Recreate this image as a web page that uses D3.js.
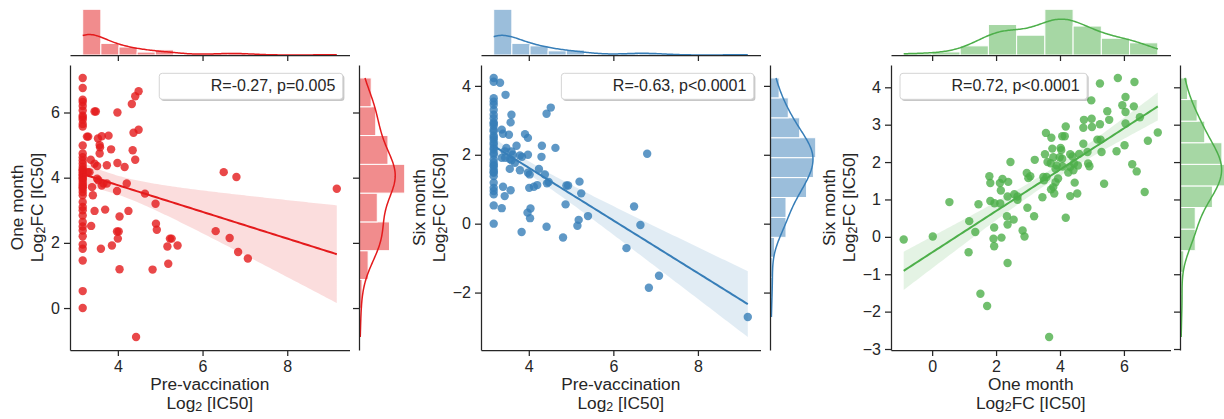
<!DOCTYPE html>
<html>
<head>
<meta charset="utf-8">
<script src="https://cdn.jsdelivr.net/npm/d3@7/dist/d3.min.js"></script>
<style>
  html, body { margin: 0; padding: 0; background: #fff; }
  svg { display: block; }
  text { font-family: "Liberation Sans", Arial, Helvetica, sans-serif; fill: #262626; white-space: pre; }
</style>
</head>
<body>
<svg id="chart" width="1224" height="419"></svg>
<script>
// ---- per-subject log2 titres: [x, y] pairs for each comparison ----
const preVsOneMonth = [
  [3.17, 7.06], [3.17, 6.75], [3.17, 6.39], [3.17, 6.32], [3.17, 6.2], [3.17, 6.06], [3.17, 5.9],
  [3.17, 5.85], [3.17, 5.78], [3.17, 5.65], [3.17, 5.57], [3.17, 4.99], [3.17, 4.74], [3.17, 4.63],
  [3.17, 4.53], [3.17, 4.43], [3.17, 4.33], [3.17, 4.25], [3.17, 4.22], [3.17, 4.17], [3.17, 4.1],
  [3.17, 4.07], [3.17, 4.0], [3.17, 3.97], [3.17, 3.9], [3.17, 3.82], [3.17, 3.75], [3.17, 3.71],
  [3.17, 3.65], [3.17, 3.56], [3.17, 3.46], [3.17, 3.25], [3.17, 3.1], [3.17, 3.0], [3.17, 2.84],
  [3.17, 2.64], [3.17, 2.5], [3.17, 2.38], [3.17, 2.2], [3.17, 1.95], [3.17, 1.82], [3.17, 1.46],
  [3.17, 0.52], [3.17, 0.0],
  [3.27, 5.26], [3.30, 5.26], [3.45, 6.03], [3.48, 6.03], [3.99, 6.0], [4.33, 6.26], [4.41, 6.5],
  [4.49, 6.65], [4.37, 5.38], [4.49, 5.47], [3.53, 5.2], [3.62, 5.27], [3.78, 5.29], [3.57, 5.0],
  [3.58, 4.93], [3.57, 4.74], [3.36, 4.55], [3.45, 4.43], [3.51, 4.36], [3.29, 4.17], [3.33, 4.17],
  [3.51, 3.97], [3.54, 3.92], [3.66, 3.82], [3.62, 3.76], [3.74, 3.82], [3.39, 3.71], [3.41, 3.46],
  [3.84, 4.87], [3.99, 4.45], [3.74, 4.38], [4.16, 4.33], [4.35, 4.84], [4.41, 4.55], [4.21, 3.82],
  [3.98, 3.59], [4.64, 3.51], [4.89, 3.2], [3.45, 2.98], [3.70, 3.02], [4.25, 2.98], [3.37, 2.52],
  [4.04, 2.81], [4.90, 2.59], [4.92, 2.4], [3.98, 2.35], [4.02, 2.35], [4.00, 2.13], [3.86, 1.92],
  [3.60, 1.82], [5.23, 2.13], [5.27, 2.13], [5.17, 1.89], [5.41, 1.92], [5.19, 1.36], [4.04, 1.19],
  [4.82, 1.18], [6.50, 4.17], [6.80, 4.02], [9.17, 3.66], [6.31, 2.36], [6.64, 2.15], [6.84, 1.72],
  [7.07, 1.52], [4.43, -0.89]
];

const preVsSixMonth = [
  [3.17, 4.23], [3.17, 4.12], [3.17, 3.64], [3.17, 3.54], [3.17, 3.45], [3.17, 3.3], [3.17, 3.16],
  [3.17, 3.06], [3.17, 2.94], [3.17, 2.9], [3.17, 2.84], [3.17, 2.73], [3.17, 2.68], [3.17, 2.55],
  [3.17, 2.5], [3.17, 2.44], [3.17, 2.35], [3.17, 2.29], [3.17, 2.2], [3.17, 2.15], [3.17, 2.05],
  [3.17, 2.0], [3.17, 1.86], [3.17, 1.77], [3.17, 1.7], [3.17, 1.67], [3.17, 1.57], [3.17, 1.5],
  [3.17, 1.48], [3.17, 1.38], [3.17, 1.19], [3.17, 1.04], [3.17, 0.95], [3.17, 0.85], [3.17, 0.53],
  [3.17, 0.0],
  [3.32, 4.09], [3.45, 3.74], [3.59, 3.16], [3.57, 2.94], [3.36, 2.73], [3.53, 2.58], [3.39, 2.61],
  [3.91, 2.6], [3.98, 2.49], [4.52, 3.37], [4.42, 3.19], [3.47, 2.2], [3.43, 2.1], [3.71, 2.26],
  [3.59, 2.1], [3.62, 2.0], [3.36, 1.91], [3.44, 1.91], [3.55, 1.88], [3.59, 1.84], [3.79, 1.98],
  [3.84, 1.94], [3.98, 2.0], [3.55, 1.59], [3.79, 1.55], [3.67, 1.77], [3.98, 1.48], [4.02, 1.43],
  [4.24, 1.59], [4.38, 1.43], [4.31, 2.26], [4.30, 1.94], [4.63, 2.2], [4.43, 1.17], [4.47, 1.21],
  [4.01, 1.04], [4.12, 1.07], [4.20, 1.12], [4.89, 1.11], [4.93, 1.11], [5.20, 1.22], [5.24, 0.88],
  [3.39, 1.07], [3.57, 0.97], [3.43, 0.8], [3.36, 0.45], [4.04, 0.44], [3.97, 0.32], [4.03, 0.16],
  [4.87, 0.56], [5.18, 0.11], [5.15, -0.06], [5.40, 0.22], [4.42, -0.09], [3.83, -0.24], [4.81, -0.4],
  [6.49, 0.5], [6.64, -0.04], [6.31, -0.71], [6.80, 2.03], [7.08, -1.51], [6.84, -1.86], [9.18, -2.71]
];

const oneVsSixMonth = [
  [5.25, 4.10], [5.81, 4.25], [6.33, 4.14], [4.98, 3.65], [6.05, 3.74], [5.95, 3.52], [6.31, 3.49],
  [5.48, 3.36], [6.05, 3.34], [4.75, 3.13], [4.99, 3.16], [5.54, 3.13], [6.50, 3.20], [4.73, 2.92],
  [5.00, 2.94], [5.25, 3.01], [6.05, 3.03], [4.18, 2.95], [3.56, 2.78], [4.07, 2.69], [4.15, 2.69],
  [3.73, 2.65], [7.06, 2.79], [6.75, 2.57], [3.76, 2.36], [4.02, 2.38], [4.73, 2.49], [5.17, 2.60],
  [5.27, 2.60], [4.86, 2.27], [5.30, 2.27], [3.53, 2.21], [3.21, 2.06], [3.79, 2.13], [3.99, 2.13],
  [4.07, 2.09], [4.32, 2.21], [4.39, 2.15], [4.60, 2.22], [3.61, 2.00], [3.71, 1.97], [3.90, 1.91],
  [4.44, 1.96], [4.56, 1.91], [4.88, 1.96], [4.92, 1.89], [4.32, 1.87], [4.42, 1.78], [5.77, 2.29],
  [6.02, 2.45], [6.26, 1.94], [6.40, 1.75], [6.65, 1.20], [5.38, 1.42], [4.46, 1.45], [4.54, 1.16],
  [4.32, 1.09], [3.82, 1.16], [3.79, 1.33], [3.50, 1.51], [3.48, 1.60], [3.01, 1.57], [3.07, 1.62],
  [2.96, 1.71], [3.45, 1.06], [1.79, 1.62], [1.82, 1.44], [2.12, 1.44], [2.38, 1.47], [2.15, 1.24],
  [2.36, 1.08], [2.57, 1.14], [2.67, 1.08], [2.67, 0.99], [0.54, 0.93], [1.45, 0.87], [1.82, 0.96],
  [2.13, 0.89], [2.98, 0.78], [2.34, 0.55], [2.55, 0.46], [3.19, 0.55], [4.18, 0.51], [1.16, 0.42],
  [2.36, 0.33], [1.94, 0.25], [1.35, 0.13], [2.83, 0.17], [2.89, 0.01], [0.02, 0.01], [-0.89, -0.07],
  [1.92, -0.05], [2.17, -0.02], [1.94, -0.25], [1.14, -0.41], [2.36, -0.70], [1.51, -1.52],
  [1.72, -1.85], [3.66, -2.68],
  [3.58, 1.60], [3.86, 1.82], [4.08, 1.88], [3.94, 1.56], [4.26, 1.72], [3.72, 1.27], [4.04, 2.32],
  [3.86, 1.46], [2.20, 1.55], [2.45, 2.00], [1.95, 0.90]
];

// ---- tick values, labels, annotations ----
const preTicks = [4, 6, 8];
const oneMonthTicks = [0, 2, 4, 6];
const sixMonthTicksWide = [-2, 0, 2, 4];
const sixMonthTicks = [-3, -2, -1, 0, 1, 2, 3, 4];

const preLabel = ["Pre-vaccination", "Log_{2} [IC50]"];
const oneMonthLabel = ["One month", "Log_{2}FC [IC50]"];
const sixMonthLabel = ["Six month", "Log_{2}FC [IC50]"];
const statLabels = ["R=-0.27, p=0.005", "R=-0.63, p<0.0001", "R=0.72, p<0.0001"];
const palette = ["#e41a1c", "#377eb8", "#4daf4a"];

// ---- layout ----
const layout = { lefts: [70, 481, 891], mainW: 279.5, top: 65, bottom: 350,
                 margGap: 10, sideGap: 9.5, margSize: 48 };
const TICK_FS = 16, LABEL_FS = 17.3, STAT_FS = 16, LINE_GAP = 19.5;
const INK = "#262626";

const panels = [
  { points: preVsOneMonth, color: palette[0], xTicks: preTicks, yTicks: oneMonthTicks,
    xBins: 14, yBins: 9, xLabel: preLabel, yLabel: oneMonthLabel, stat: statLabels[0],
    legendSide: "right", left: layout.lefts[0] },
  { points: preVsSixMonth, color: palette[1], xTicks: preTicks, yTicks: sixMonthTicksWide,
    xBins: 14, yBins: 12, xLabel: preLabel, yLabel: sixMonthLabel, stat: statLabels[1],
    legendSide: "right", left: layout.lefts[1] },
  { points: oneVsSixMonth, color: palette[2], xTicks: oneMonthTicks, yTicks: sixMonthTicks,
    xBins: 9, yBins: 12, xLabel: oneMonthLabel, yLabel: sixMonthLabel, stat: statLabels[2],
    legendSide: "left", left: layout.lefts[2] }
];

const svg = d3.select("#chart");

// ---- helpers ----
function fitLine(xs, ys) {
  const n = xs.length, mx = d3.mean(xs), my = d3.mean(ys);
  let sxx = 0, sxy = 0;
  for (let i = 0; i < n; i++) { sxx += (xs[i] - mx) ** 2; sxy += (xs[i] - mx) * (ys[i] - my); }
  const b = sxy / sxx, a = my - b * mx;
  let sse = 0;
  for (let i = 0; i < n; i++) sse += (ys[i] - a - b * xs[i]) ** 2;
  return { a, b, n, mx, sxx, s: Math.sqrt(sse / (n - 2)) };
}

// Gaussian KDE (Scott bandwidth) scaled to histogram counts
function kdeCurve(values, lo, hi, scale) {
  const n = values.length, bw = d3.deviation(values) * Math.pow(n, -0.2);
  const norm = 1 / (n * bw * Math.sqrt(2 * Math.PI));
  return d3.range(200).map(i => {
    const g = lo + (hi - lo) * i / 199;
    return [g, d3.sum(values, v => Math.exp(-0.5 * ((g - v) / bw) ** 2)) * norm * scale];
  });
}

function binsOf(values, k) {
  const [lo, hi] = d3.extent(values);
  const step = (hi - lo) / k;
  return d3.bin().domain([lo, hi]).thresholds(d3.range(1, k).map(i => lo + i * step))(values);
}

function styleAxis(g) {
  g.select("path.domain").attr("stroke", INK).attr("stroke-width", 1.25);
  g.selectAll(".tick line").attr("stroke", INK).attr("stroke-width", 1.25);
  g.selectAll(".tick text").attr("font-size", TICK_FS).attr("fill", INK);
}

// one label line with _{..} subscripts; returns how far the pen is still lowered
function addRichLine(textSel, str, size, lineX, lineDy) {
  const parts = str.split(/_\{([^}]*)\}/);
  const shift = size * 0.13;
  let lowered = false, first = true;
  parts.forEach((s, i) => {
    if (!s) return;
    const ts = textSel.append("tspan").text(s);
    let dy = 0;
    if (first) { ts.attr("x", lineX); dy += lineDy; first = false; }
    if (i % 2 === 1) { ts.attr("font-size", size * 0.72); dy += shift; lowered = true; }
    else if (lowered) { dy -= shift; lowered = false; }
    if (dy !== 0) ts.attr("dy", dy);
  });
  return lowered ? shift : 0;
}

// two-line label as a single text element
function twoLineLabel(textSel, lines, size, lineX) {
  let carry = 0;
  lines.forEach((line, i) => {
    carry = addRichLine(textSel, line, size, lineX, i === 0 ? 0 : LINE_GAP - carry);
  });
}

const pad5 = ([a, b]) => [a - 0.05 * (b - a), b + 0.05 * (b - a)];

function drawPanel(cfg) {
  const L = cfg.left, R = L + layout.mainW, T = layout.top, B = layout.bottom;
  const xs = cfg.points.map(d => d[0]), ys = cfg.points.map(d => d[1]);
  const fit = fitLine(xs, ys);
  const [xmin, xmax] = d3.extent(xs);
  const tcrit = 1.984;
  const band = d3.range(100).map(i => {
    const xv = xmin + (xmax - xmin) * i / 99;
    const yh = fit.a + fit.b * xv;
    const se = fit.s * Math.sqrt(1 / fit.n + (xv - fit.mx) ** 2 / fit.sxx);
    return { x: xv, y: yh, lo: yh - tcrit * se, hi: yh + tcrit * se };
  });

  const x = d3.scaleLinear().domain(pad5([xmin, xmax])).range([L, R]);
  const yLo = Math.min(d3.min(ys), d3.min(band, d => d.lo));
  const yHi = Math.max(d3.max(ys), d3.max(band, d => d.hi));
  const y = d3.scaleLinear().domain(pad5([yLo, yHi])).range([B, T]);

  const g = svg.append("g");

  // scatter
  g.append("g").selectAll("circle").data(cfg.points).join("circle")
    .attr("cx", d => x(d[0])).attr("cy", d => y(d[1])).attr("r", 4.2)
    .attr("fill", cfg.color).attr("fill-opacity", 0.8);

  // confidence band and fitted line
  g.append("path").datum(band)
    .attr("d", d3.area().x(d => x(d.x)).y0(d => y(d.lo)).y1(d => y(d.hi)))
    .attr("fill", cfg.color).attr("fill-opacity", 0.15);
  g.append("path").datum(band)
    .attr("d", d3.line().x(d => x(d.x)).y(d => y(d.y)))
    .attr("fill", "none").attr("stroke", cfg.color).attr("stroke-width", 2);

  // main axes
  const xAxisG = g.append("g").attr("transform", `translate(0,${B})`)
    .call(d3.axisBottom(x).tickValues(cfg.xTicks).tickSize(6).tickSizeOuter(0)
      .tickPadding(4.3).tickFormat(d3.format("d")));
  styleAxis(xAxisG);
  const yAxisG = g.append("g").attr("transform", `translate(${L},0)`)
    .call(d3.axisLeft(y).tickValues(cfg.yTicks).tickSize(6).tickSizeOuter(0)
      .tickPadding(4).tickFormat(d3.format("d")));
  styleAxis(yAxisG);

  // top marginal histogram
  const topBase = T - layout.margGap;
  const xb = binsOf(xs, cfg.xBins);
  const xbw = (xmax - xmin) / cfg.xBins;
  const xk = kdeCurve(xs, xmin, xmax, xs.length * xbw);
  const hy = d3.scaleLinear()
    .domain([0, 1.05 * Math.max(d3.max(xb, b => b.length), d3.max(xk, d => d[1]))])
    .range([topBase, topBase - layout.margSize]);
  g.append("g").selectAll("rect").data(xb).join("rect")
    .attr("x", b => x(b.x0)).attr("width", b => x(b.x1) - x(b.x0))
    .attr("y", b => hy(b.length)).attr("height", b => hy(0) - hy(b.length))
    .attr("fill", cfg.color).attr("fill-opacity", 0.5)
    .attr("stroke", "#fff").attr("stroke-width", 1);
  g.append("path").datum(xk)
    .attr("d", d3.line().x(d => x(d[0])).y(d => hy(d[1])))
    .attr("fill", "none").attr("stroke", cfg.color).attr("stroke-width", 1.5);
  styleAxis(g.append("g").attr("transform", `translate(0,${topBase})`)
    .call(d3.axisBottom(x).tickValues(cfg.xTicks).tickSize(6).tickSizeOuter(0).tickFormat("")));

  // right marginal histogram
  const sideLeft = R + layout.sideGap;
  const [ymin, ymax] = d3.extent(ys);
  const yb = binsOf(ys, cfg.yBins);
  const ybw = (ymax - ymin) / cfg.yBins;
  const yk = kdeCurve(ys, ymin, ymax, ys.length * ybw);
  const hx = d3.scaleLinear()
    .domain([0, 1.05 * Math.max(d3.max(yb, b => b.length), d3.max(yk, d => d[1]))])
    .range([sideLeft, sideLeft + layout.margSize]);
  g.append("g").selectAll("rect").data(yb).join("rect")
    .attr("y", b => y(b.x1)).attr("height", b => y(b.x0) - y(b.x1))
    .attr("x", sideLeft).attr("width", b => hx(b.length) - hx(0))
    .attr("fill", cfg.color).attr("fill-opacity", 0.5)
    .attr("stroke", "#fff").attr("stroke-width", 1);
  g.append("path").datum(yk)
    .attr("d", d3.line().x(d => hx(d[1])).y(d => y(d[0])))
    .attr("fill", "none").attr("stroke", cfg.color).attr("stroke-width", 1.5);
  styleAxis(g.append("g").attr("transform", `translate(${sideLeft},0)`)
    .call(d3.axisLeft(y).tickValues(cfg.yTicks).tickSize(6).tickSizeOuter(0).tickFormat("")));

  // x label (two lines in one text element)
  const xt = g.append("text").attr("x", (L + R) / 2).attr("y", 389.6)
    .attr("text-anchor", "middle").attr("font-size", LABEL_FS);
  twoLineLabel(xt, cfg.xLabel, LABEL_FS, (L + R) / 2);

  // y label, placed left of the widest tick label
  const tickW = d3.max(yAxisG.selectAll(".tick text").nodes(), n => n.getComputedTextLength());
  const line2 = L - 10 - tickW - 8.2;
  const cy = (T + B) / 2;
  const yt = g.append("text")
    .attr("transform", `translate(${line2 - LINE_GAP},${cy}) rotate(-90)`)
    .attr("text-anchor", "middle").attr("font-size", LABEL_FS);
  twoLineLabel(yt, cfg.yLabel, LABEL_FS, 0);

  // statistics box
  const boxTop = T + 8.3, boxH = 26;
  const lg = g.append("g");
  const txt = lg.append("text").attr("font-size", STAT_FS).attr("text-anchor", "end").text(cfg.stat);
  const tw = txt.node().getComputedTextLength();
  const boxW = tw + 51.5 + 7.5;
  const boxLeft = cfg.legendSide === "right" ? R - 6.7 - boxW : L + 9;
  lg.insert("rect", "text").attr("x", boxLeft + 1.6).attr("y", boxTop + 1.6)
    .attr("width", boxW).attr("height", boxH).attr("rx", 3)
    .attr("fill", "#000").attr("fill-opacity", 0.22);
  lg.insert("rect", "text").attr("x", boxLeft).attr("y", boxTop)
    .attr("width", boxW).attr("height", boxH).attr("rx", 3)
    .attr("fill", "#fff").attr("stroke", "#d4d4d4").attr("stroke-width", 1);
  txt.attr("x", boxLeft + boxW - 7.5).attr("y", boxTop + 17.4);
}

panels.forEach(drawPanel);
</script>
</body>
</html>
